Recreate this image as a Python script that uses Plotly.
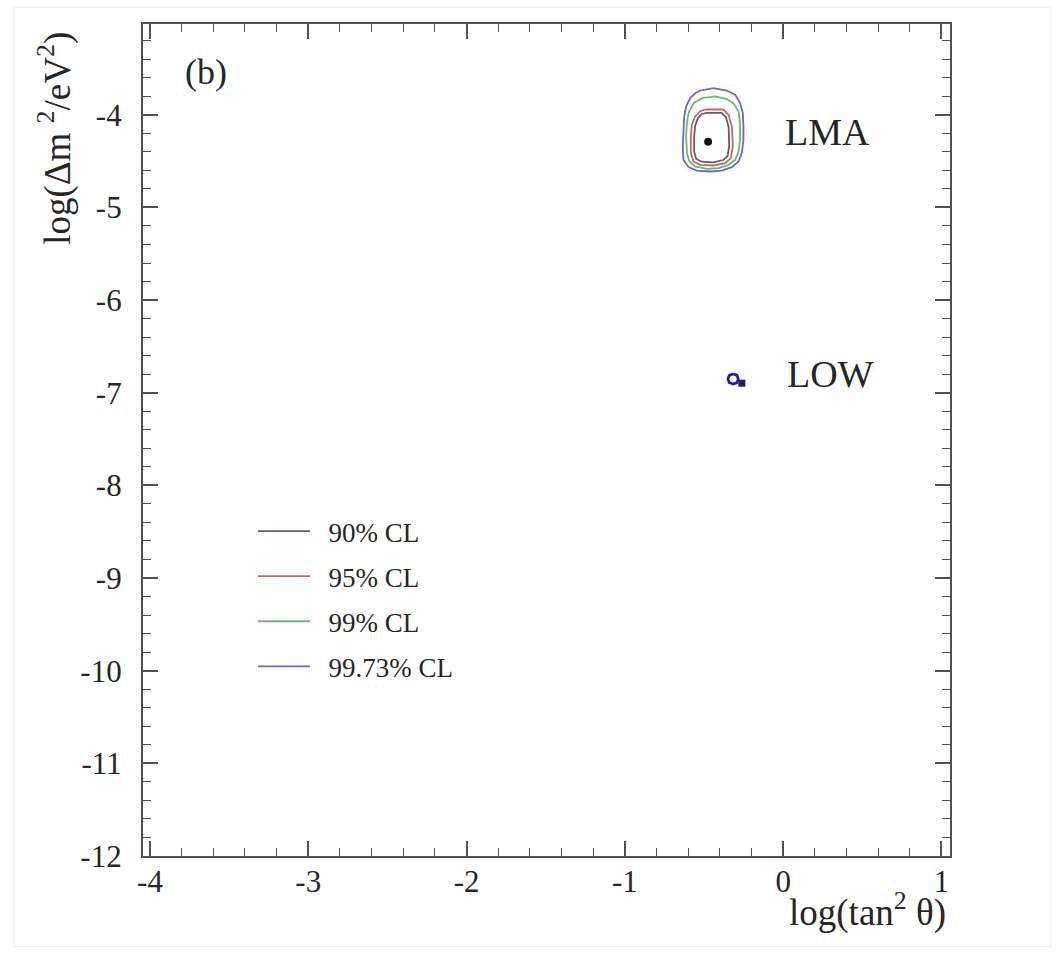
import plotly.graph_objects as go

# Confidence-level contours in the (log tan^2 theta, log dm^2) plane
cl_names = ["90% CL", "95% CL", "99% CL", "99.73% CL"]
cl_colors = ["#6e5a5a", "#c46a6a", "#6cb86c", "#6a6ac2"]

# LMA region contour vertices
lma_90_x = [-0.483, -0.389, -0.361, -0.344, -0.341, -0.351, -0.379, -0.441, -0.514, -0.550,
            -0.562, -0.562, -0.556, -0.539, -0.514, -0.483]
lma_90_y = [-3.979, -3.979, -4.028, -4.136, -4.337, -4.445, -4.488, -4.513, -4.506, -4.474,
            -4.398, -4.236, -4.121, -4.038, -3.991, -3.979]

lma_95_x = [-0.493, -0.377, -0.345, -0.324, -0.318, -0.330, -0.366, -0.440, -0.524, -0.566,
            -0.583, -0.583, -0.577, -0.556, -0.524, -0.493]
lma_95_y = [-3.943, -3.943, -4.000, -4.126, -4.342, -4.467, -4.521, -4.547, -4.540, -4.504,
            -4.414, -4.234, -4.108, -4.018, -3.961, -3.943]

lma_99_x = [-0.598, -0.566, -0.513, -0.429, -0.356, -0.314, -0.282, -0.272, -0.272, -0.282,
            -0.303, -0.345, -0.408, -0.481, -0.556, -0.592, -0.608, -0.613, -0.608, -0.598]
lma_99_y = [-3.982, -3.874, -3.820, -3.802, -3.830, -3.874, -3.964, -4.089, -4.270, -4.396,
            -4.486, -4.540, -4.576, -4.583, -4.558, -4.504, -4.414, -4.234, -4.089, -3.982]

lma_9973_x = [-0.524, -0.440, -0.356, -0.303, -0.272, -0.255, -0.251, -0.251, -0.261, -0.282,
              -0.324, -0.387, -0.461, -0.545, -0.598, -0.630, -0.634, -0.630, -0.625, -0.613,
              -0.587, -0.556, -0.524]
lma_9973_y = [-3.738, -3.712, -3.738, -3.784, -3.874, -3.982, -4.126, -4.270, -4.414, -4.504,
              -4.565, -4.602, -4.612, -4.602, -4.565, -4.486, -4.342, -4.162, -4.018, -3.910,
              -3.820, -3.766, -3.738]

# LOW region (99.73% CL island)
low_9973_x = [-0.316, -0.292, -0.283, -0.292, -0.316, -0.340, -0.349, -0.340, -0.316]
low_9973_y = [-6.796, -6.812, -6.851, -6.890, -6.906, -6.890, -6.851, -6.812, -6.796]

# Best-fit points
lma_best_x, lma_best_y = [-0.474], [-4.292]
low_best_x, low_best_y = [-0.261], [-6.897]

# Axis ticks
x_ticks = [-4, -3, -2, -1, 0, 1]
y_ticks = [-4, -5, -6, -7, -8, -9, -10, -11, -12]

FONT = "Liberation Serif"
TXT = "#262626"
AX = "#505050"

fig = go.Figure()

contours = [
    (lma_90_x, lma_90_y),
    (lma_95_x, lma_95_y),
    (lma_99_x, lma_99_y),
    (lma_9973_x, lma_9973_y),
]
for (cx, cy), name, col in zip(contours, cl_names, cl_colors):
    fig.add_trace(go.Scatter(
        x=cx, y=cy, mode="lines", name="\u00a0\u00a0" + name,
        line=dict(color=col, width=1.8),
        legendgroup=name, showlegend=True,
    ))

fig.add_trace(go.Scatter(
    x=low_9973_x, y=low_9973_y, mode="lines", name=cl_names[3],
    line=dict(color="#26268a", width=2.8),
    legendgroup=cl_names[3], showlegend=False,
))

fig.add_trace(go.Scatter(
    x=lma_best_x, y=lma_best_y, mode="markers", showlegend=False,
    marker=dict(color="#111111", size=8, symbol="circle"),
))
fig.add_trace(go.Scatter(
    x=low_best_x, y=low_best_y, mode="markers", showlegend=False,
    marker=dict(color="#1c1c70", size=7, symbol="square"),
))

axis_common = dict(
    showgrid=False, zeroline=False,
    showline=True, linecolor=AX, linewidth=2.2, mirror="ticks",
    ticks="inside", ticklen=15, tickwidth=1.6, tickcolor=AX,
    tickfont=dict(family=FONT, size=31, color=TXT),
    minor=dict(ticks="inside", ticklen=8, tickwidth=1.3, tickcolor=AX, dtick=0.2),
)

fig.update_xaxes(range=[-4.044, 1.054], tickvals=x_ticks,
                 ticktext=[str(v) for v in x_ticks], ticklabelstandoff=-3, **axis_common)
fig.update_yaxes(range=[-12, -3.02], tickvals=y_ticks,
                 ticktext=[str(v) for v in y_ticks], ticklabelstandoff=13, **axis_common)

annotations = [
    dict(x=-3.645, y=-3.536, xref="x", yref="y", text="(b)", showarrow=False,
         font=dict(family=FONT, size=36, color=TXT)),
    dict(x=0.0, y=-4.19, xref="x", yref="y", text="LMA", showarrow=False,
         xanchor="left", font=dict(family=FONT, size=38, color=TXT)),
    dict(x=0.013, y=-6.80, xref="x", yref="y", text="LOW", showarrow=False,
         xanchor="left", font=dict(family=FONT, size=38, color=TXT)),
    dict(x=0.9975, y=-0.065, xref="paper", yref="paper", text="log(tan<sup>2</sup> θ)",
         showarrow=False, xanchor="right", yanchor="middle",
         font=dict(family=FONT, size=37, color=TXT)),
    dict(x=-0.109, y=0.862, xref="paper", yref="paper",
         text="log(Δm <sup>2</sup>/eV<sup>2</sup>)", textangle=-90,
         showarrow=False, xanchor="center", yanchor="middle",
         font=dict(family=FONT, size=37, color=TXT)),
]

fig.update_layout(
    width=1057, height=953,
    margin=dict(l=143, r=107, t=24, b=97),
    paper_bgcolor="white", plot_bgcolor="white",
    annotations=annotations,
    showlegend=True,
    legend=dict(
        x=(253 - 143) / 807, y=(856 - 507) / 832, xanchor="left", yanchor="top",
        bgcolor="rgba(0,0,0,0)", borderwidth=0,
        font=dict(family=FONT, size=27, color=TXT),
        tracegroupgap=7, itemwidth=52,
    ),
    shapes=[dict(type="rect", xref="paper", yref="paper",
                 x0=-0.160, x1=1.125, y0=-0.109, y1=1.0204,
                 line=dict(color="#ececec", width=1), layer="below")],
)

fig.write_html("out.html")
